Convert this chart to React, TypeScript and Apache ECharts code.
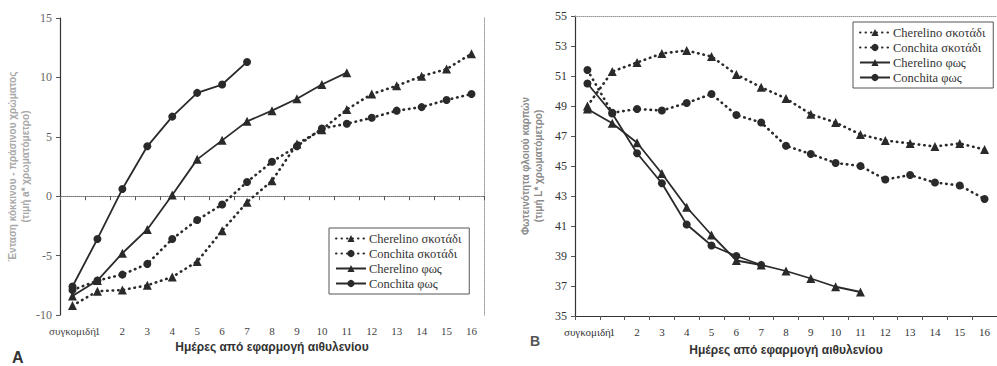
import React, { useEffect, useRef } from "react";
import * as echarts from "echarts";

const categories = ["συγκομιδή", "1", "2", "3", "4", "5", "6", "7", "8", "9", "10", "11", "12", "13", "14", "15", "16"];
const seriesNames = ["Cherelino σκοτάδι", "Conchita σκοτάδι", "Cherelino φως", "Conchita φως"];

// Chart A: a* value
const aCherelinoDark = [-9.2, -8.0, -7.9, -7.5, -6.8, -5.5, -2.9, -0.5, 1.3, 4.4, 5.6, 7.3, 8.6, 9.3, 10.1, 10.7, 12.0];
const aConchitaDark = [-7.9, -7.1, -6.6, -5.7, -3.6, -2.0, -0.7, 1.2, 2.9, 4.2, 5.7, 6.1, 6.6, 7.2, 7.5, 8.1, 8.6];
const aCherelinoLight = [-8.4, -7.1, -4.8, -2.8, 0.1, 3.1, 4.7, 6.3, 7.2, 8.2, 9.4, 10.4];
const aConchitaLight = [-7.6, -3.6, 0.6, 4.2, 6.7, 8.7, 9.4, 11.3];

// Chart B: L* value
const bCherelinoDark = [49.0, 51.3, 51.9, 52.5, 52.7, 52.3, 51.1, 50.25, 49.5, 48.45, 47.9, 47.1, 46.7, 46.5, 46.3, 46.5, 46.1];
const bConchitaDark = [51.4, 48.55, 48.8, 48.7, 49.2, 49.8, 48.4, 47.9, 46.35, 45.8, 45.2, 45.0, 44.1, 44.4, 43.9, 43.7, 42.8];
const bCherelinoLight = [48.8, 47.85, 46.55, 44.5, 42.25, 40.4, 38.7, 38.4, 38.0, 37.5, 36.95, 36.6];
const bConchitaLight = [50.5, 48.5, 45.85, 43.85, 41.1, 39.7, 39.0, 38.4];

const xAxisTitle = "Ημέρες από εφαρμογή αιθυλενίου";
const yTitleA = "Ένταση κόκκινου - πράσινου χρώματος\n(τιμή a* χρωματόμετρο)";
const yTitleB = "Φωτεινότητα φλοιού καρπών\n(τιμή L* χρωματόμετρο)";

export default function App() {
  const ref = useRef<HTMLDivElement>(null);
  useEffect(() => {
    if (!ref.current) return;
    const chart = echarts.init(ref.current, undefined, { renderer: "svg" });
    const ink = "#2a2a2a";
    const serif = "Times New Roman, Liberation Serif, serif";
    const sans = "Liberation Sans";

    const mkX = (grid: number, gap: number) => ({
      type: "category",
      gridIndex: grid,
      data: categories,
      boundaryGap: true,
      axisLine: { show: true, lineStyle: { color: "#333", width: 1.2 } },
      axisTick: { show: true, alignWithLabel: false, length: 4, lineStyle: { color: "#555" } },
      axisLabel: { fontFamily: serif, fontSize: 11, color: grid === 0 ? "#444" : "#333", margin: 10, interval: 0 },
      name: xAxisTitle,
      nameLocation: "middle",
      nameGap: gap,
      nameTextStyle: { fontFamily: sans, fontSize: 12, fontWeight: "bold", color: "#333" },
    });
    const mkTop = (grid: number) => ({
      type: "category",
      gridIndex: grid,
      position: "top",
      data: categories,
      axisLine: { show: true, lineStyle: { color: "#999", type: "dotted", width: 1 } },
      axisTick: { show: false },
      axisLabel: { show: false },
    });
    const mkY = (grid: number, min: number, max: number, interval: number, title: string, gap: number, nameColor: string) => ({
      type: "value",
      gridIndex: grid,
      min,
      max,
      interval,
      axisLine: { show: true, lineStyle: { color: "#333", width: 1.2 } },
      axisTick: { show: true, length: 4, lineStyle: { color: "#555" } },
      splitLine: { show: false },
      axisLabel: { fontFamily: serif, fontSize: 12, color: grid === 0 ? "#666" : "#333", margin: 8 },
      name: title,
      nameLocation: "middle",
      nameGap: gap,
      nameRotate: 90,
      nameTextStyle: { fontFamily: sans, fontSize: 10, fontWeight: "bold", color: nameColor, lineHeight: 13 },
    });

    const mkSeries = (name: string, data: number[], grid: number, dark: boolean, symbol: string) => ({
      name,
      type: "line",
      xAxisIndex: grid,
      yAxisIndex: grid,
      data,
      symbol,
      symbolSize: symbol === "circle" ? 8 : 9,
      showSymbol: true,
      itemStyle: { color: ink },
      lineStyle: dark
        ? { color: ink, width: 2.6, type: [0.5, 5], cap: "round" }
        : { color: ink, width: 1.8, type: "solid" },
      z: 3,
    });

    const legendCommon = {
      orient: "vertical",
      data: seriesNames,
      itemWidth: 30,
      itemHeight: 9,
      itemGap: 2,
      padding: [4, 8, 4, 6],
      borderColor: "#555",
      borderWidth: 1,
      backgroundColor: "#fff",
      textStyle: { fontFamily: serif, fontSize: 12.5, color: "#333", padding: [0, 0, 0, -2] },
      selectedMode: false,
    };

    chart.setOption({
      animation: false,
      backgroundColor: "#fff",
      grid: [
        { left: 60, top: 18, width: 424, height: 297 },
        { left: 575, top: 16, width: 431, height: 300 },
      ],
      xAxis: [mkX(0, 26), mkX(1, 28), mkTop(0), mkTop(1)],
      yAxis: [
        mkY(0, -10, 15, 5, yTitleA, 26, "#a8a8a8"),
        mkY(1, 35, 55, 2, yTitleB, 30, "#8a8a8a"),
        {
          type: "value",
          gridIndex: 0,
          position: "right",
          min: -10,
          max: 15,
          interval: 5,
          axisLine: { show: true, lineStyle: { color: "#999", type: "dotted", width: 1 } },
          axisTick: { show: false },
          axisLabel: { show: false },
          splitLine: { show: false },
        },
      ],
      legend: [
        { ...legendCommon, left: 329, top: 228 },
        { ...legendCommon, left: 853, top: 22 },
      ],
      series: [
        mkSeries(seriesNames[0], aCherelinoDark, 0, true, "triangle"),
        mkSeries(seriesNames[1], aConchitaDark, 0, true, "circle"),
        mkSeries(seriesNames[2], aCherelinoLight, 0, false, "triangle"),
        mkSeries(seriesNames[3], aConchitaLight, 0, false, "circle"),
        mkSeries(seriesNames[0], bCherelinoDark, 1, true, "triangle"),
        mkSeries(seriesNames[1], bConchitaDark, 1, true, "circle"),
        mkSeries(seriesNames[2], bCherelinoLight, 1, false, "triangle"),
        mkSeries(seriesNames[3], bConchitaLight, 1, false, "circle"),
      ],
      graphic: [
        { type: "text", left: 12, top: 349, style: { text: "Α", fontFamily: sans, fontSize: 16, fontWeight: "bold", fill: "#333" } },
        { type: "text", left: 530, top: 334, style: { text: "Β", fontFamily: sans, fontSize: 14, fontWeight: "bold", fill: "#555" } },
      ],
    });
    return () => chart.dispose();
  }, []);
  return <div ref={ref} style={{ position: "fixed", left: 0, top: 0, width: 997, height: 366, overflow: "hidden" }} />;
}
